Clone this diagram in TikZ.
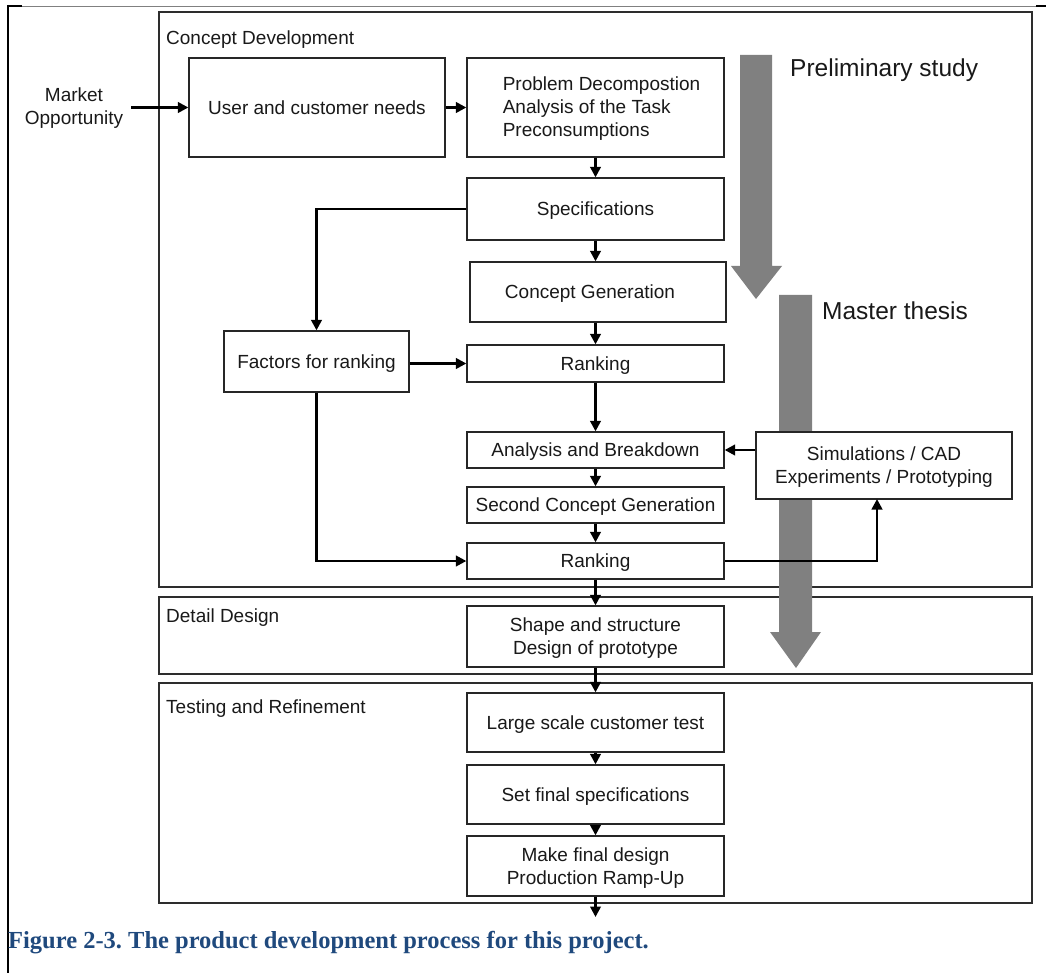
\documentclass[tikz,border=0pt]{standalone}
\usepackage{fontspec}
\setmainfont{Liberation Sans}
\newfontfamily\capfont{Liberation Serif}
\usetikzlibrary{arrows.meta}
\definecolor{capblue}{RGB}{31,73,125}
\definecolor{arrgray}{RGB}{128,128,128}
\definecolor{linegray}{RGB}{45,45,45}
\frenchspacing
\begin{document}
\begin{tikzpicture}[x=1pt,y=-1pt,
  txt/.style={inner sep=0pt, align=center, font=\fontsize{19}{23}\selectfont, text=black!90},
  box/.style={txt, draw=black!85, line width=1.3pt, fill=white, text depth=-1pt},
  phase/.style={draw=linegray, line width=1.7pt},
  phaselabel/.style={inner sep=0pt, anchor=west, font=\fontsize{19}{23}\selectfont, text=black!90},
  biglabel/.style={inner sep=0pt, anchor=west, font=\fontsize{24.5}{28}\selectfont, text=black!90},
  conn/.style={line width=2.5pt, -{Triangle[length=10.5pt,width=10.5pt]}},
  grayarrow/.style={fill=arrgray, draw=none}
]
\useasboundingbox (0,0) rectangle (1046,973);
% page frame
\draw[gray, line width=0.8pt] (8,6) -- (1036,6);
\draw[black, line width=2pt] (8,6) -- (22,6);
\draw[black, line width=2pt] (1036,6) -- (1046,6);
\draw[black, line width=2.4pt] (8,5) -- (8,973);
% phase boxes
\draw[phase] (159,12) rectangle (1032,587);
\draw[phase] (159,597) rectangle (1032,674);
\draw[phase] (159,683) rectangle (1032,903);
\node[phaselabel] (lcd) at (166,40) {Concept Development};
\node[phaselabel] (ldd) at (166,618) {Detail Design};
\node[phaselabel] (ltr) at (166,709) {Testing and Refinement};
% gray arrows
\fill[grayarrow] (740,55) -- (772,55) -- (772,266) -- (782,266) -- (756,299) -- (731,266) -- (740,266) -- cycle;
\fill[grayarrow] (779,295) -- (812,295) -- (812,632) -- (821,632) -- (796,668) -- (770,632) -- (779,632) -- cycle;
\node[biglabel] (lps) at (790,70) {Preliminary study};
\node[biglabel] (lmt) at (822,311) {Master thesis};
% nodes
\node[txt] (market) at (74,108.5) {Market\\Opportunity};
\node[box, minimum width=256pt, minimum height=99pt] (user) at (317,107.5) {User and customer needs};
\node[box, minimum width=257pt, minimum height=99pt, align=left, text depth=2pt] (prob) at (595.5,107.5) {\hspace*{12pt}Problem Decompostion\\\hspace*{12pt}Analysis of the Task\\\hspace*{12pt}Preconsumptions};
\node[box, minimum width=257pt, minimum height=62pt] (spec) at (595.5,209) {Specifications};
\node[box, minimum width=256pt, minimum height=60pt] (cgen) at (598,292) {Concept Generation\hspace*{16pt}};
\node[box, minimum width=257pt, minimum height=37pt] (rank1) at (595.5,363.5) {Ranking};
\node[box, minimum width=185pt, minimum height=61pt] (factors) at (316.5,361.5) {Factors for ranking};
\node[box, minimum width=257pt, minimum height=36pt] (anal) at (595.5,450) {Analysis and Breakdown};
\node[box, minimum width=256pt, minimum height=67pt] (sim) at (884,465.5) {Simulations / CAD\\Experiments / Prototyping};
\node[box, minimum width=257pt, minimum height=36pt] (second) at (595.5,505) {Second Concept Generation};
\node[box, minimum width=257pt, minimum height=36pt] (rank2) at (595.5,561) {Ranking};
\node[box, minimum width=257pt, minimum height=61pt, text depth=-3pt] (shape) at (595.5,636.5) {Shape and structure\\Design of prototype};
\node[box, minimum width=257pt, minimum height=59pt] (large) at (595.5,722.5) {Large scale customer test};
\node[box, minimum width=257pt, minimum height=59pt] (setf) at (595.5,794.5) {Set final specifications};
\node[box, minimum width=257pt, minimum height=60pt, text depth=-4pt] (make) at (595.5,866) {Make final design\\Production Ramp-Up};
\coordinate (out) at (595.5,917);
\coordinate (simin) at (877,499);
% connectors
\draw[conn] ([xshift=8pt]market.east |- user.west) -- (user.west);
\draw[conn] (user.east) -- (prob.west);
\draw[conn] (prob.south) -- (spec.north);
\draw[conn] (spec.south) -- (spec.south |- cgen.north);
\draw[conn] (cgen.south -| spec.south) -- (rank1.north);
\draw[conn] (spec.west) -| (factors.north);
\draw[conn] (factors.east |- rank1.west) -- (rank1.west);
\draw[conn] (factors.south) |- (rank2.west);
\draw[conn] (rank1.south) -- (anal.north);
\draw[conn] (sim.west |- anal.east) -- (anal.east);
\draw[conn] (anal.south) -- (second.north);
\draw[conn] (second.south) -- (rank2.north);
\draw[conn] (rank2.east) -| (simin);
\draw[conn] (rank2.south) -- (shape.north);
\draw[conn] (shape.south) -- (large.north);
\draw[conn] (large.south) -- (setf.north);
\draw[conn] (setf.south) -- (make.north);
\draw[conn] (make.south) -- (out);
% caption
\node[inner sep=0pt, anchor=west, text=capblue, font=\capfont\bfseries\fontsize{24.5}{28}\selectfont] (cap) at (8,943) {Figure 2-3. The product development process for this project.};
\end{tikzpicture}
\end{document}
